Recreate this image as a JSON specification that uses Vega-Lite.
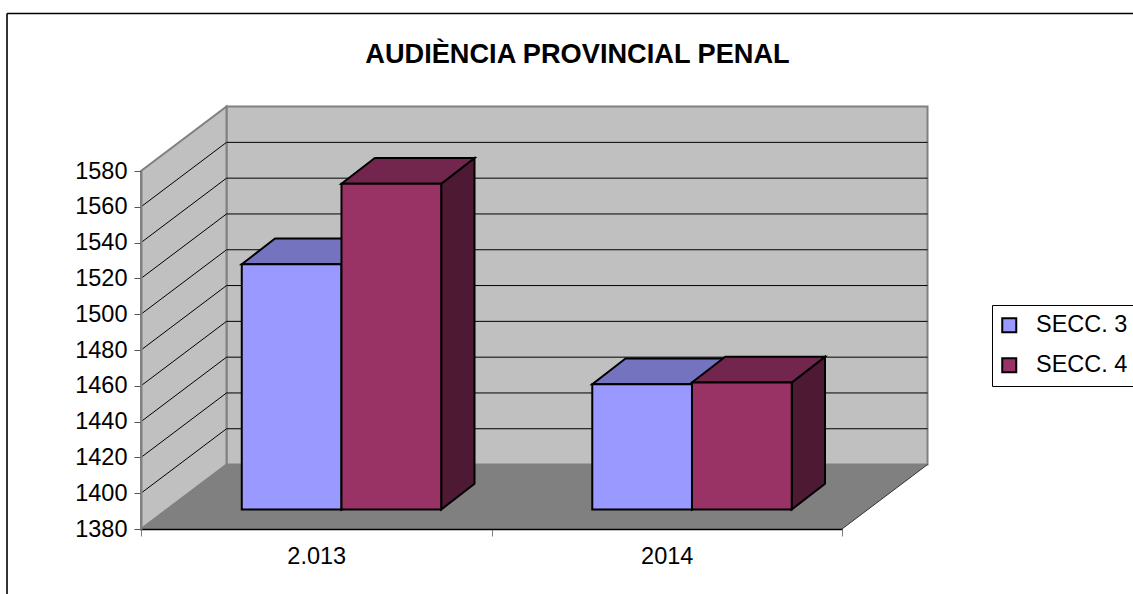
{
"$schema":"https://vega.github.io/schema/vega-lite/v6.json",
"width":701,"height":358,
"autosize":{"type":"none"},
"padding":{"left":141,"top":171,"right":291,"bottom":65},
"background":"white",
"config":{"view":{"stroke":null},"font":"Liberation Sans"},
"title":{"text":"AUDIÈNCIA PROVINCIAL PENAL","font":"Liberation Sans","fontSize":27.2,"fontWeight":"bold","color":"black","anchor":"middle","frame":"group","dx":86,"offset":-57},
"datasets":{
"bars":[
{"year":"2.013","series":"SECC. 3","value":1517},
{"year":"2.013","series":"SECC. 4","value":1562},
{"year":"2014","series":"SECC. 3","value":1450},
{"year":"2014","series":"SECC. 4","value":1451}
],
"levels":[{"level":1400},{"level":1420},{"level":1440},{"level":1460},{"level":1480},{"level":1500},{"level":1520},{"level":1540},{"level":1560}]
},
"encoding":{
"x":{"field":"x","type":"quantitative","scale":{"domain":[0,2],"nice":false,"zero":false},
"axis":{"title":null,"grid":false,"values":[0,0.5,1,1.5,2],"labelExpr":"datum.value==0.5?'2.013':datum.value==1.5?'2014':''","tickOpacity":{"condition":{"test":"datum.value==0.5||datum.value==1.5","value":0},"value":1},"labelFont":"Liberation Sans","labelFontSize":23.5,"labelColor":"black","labelPadding":8,"tickSize":7,"tickColor":"#808080","domainColor":"black","domainWidth":1.5,"labelOverlap":false,"labelFlush":false,"zindex":1}},
"y":{"field":"y","type":"quantitative","scale":{"domain":[1380,1580],"nice":false,"zero":false},
"axis":{"title":null,"grid":false,"values":[1380,1400,1420,1440,1460,1480,1500,1520,1540,1560,1580],"labelFont":"Liberation Sans","labelFontSize":23.5,"labelColor":"black","labelPadding":7,"tickSize":7,"tickColor":"#555555","domainColor":"#808080","domainWidth":2,"labelOverlap":false,"labelFlush":false,"format":"d","zindex":1}}
},
"layer":[
{"data":{"values":[{"x":-0.3823,"y":1668,"y2":1300}]},"mark":{"type":"rule","color":"black","strokeWidth":1.6},"encoding":{"y2":{"field":"y2"}}},
{"data":{"values":[{"x":-0.3823,"x2":3.5,"y":1668}]},"mark":{"type":"rule","color":"black","strokeWidth":1.6},"encoding":{"x2":{"field":"x2"}}},
{"data":{"values":[{"x":0.244,"x2":2.244,"y":1416,"y2":1616}]},"mark":{"type":"rect","fill":"#C0C0C0","stroke":"#808080","strokeWidth":2},"encoding":{"x2":{"field":"x2"},"y2":{"field":"y2"}}},
{"data":{"values":[{"x":0,"y":1380,"y2":1580},{"x":0.244,"y":1416,"y2":1616}]},"mark":{"type":"area","orient":"vertical","fill":"#C0C0C0","stroke":"#808080","strokeWidth":2},"encoding":{"y2":{"field":"y2"}}},
{"data":{"values":[{"x":0,"x2":2,"y":1380},{"x":0.244,"x2":2.244,"y":1416}]},"mark":{"type":"area","orient":"horizontal","fill":"#808080"},"encoding":{"x2":{"field":"x2"}}},
{"data":{"values":[{"x":2,"y":1380},{"x":2.244,"y":1416}]},"mark":{"type":"line","color":"#333333","strokeWidth":1}},
{"data":{"name":"levels"},
"transform":[
{"calculate":"[0,1,2]","as":"v"},{"flatten":["v"]},
{"calculate":"[0,0.244,2.244][datum.v]","as":"x"},
{"calculate":"datum.level+(datum.v>0?36:0)","as":"y"}],
"mark":{"type":"line","color":"black","strokeWidth":1},"encoding":{"detail":{"field":"level"},"order":{"field":"v"}}},
{"data":{"name":"bars"},
"transform":[
{"calculate":"(datum.year==='2.013'?0:1)+0.5+(datum.series==='SECC. 3'?-0.2845:0)","as":"left"},
{"calculate":"[0,1]","as":"d"},{"flatten":["d"]},
{"calculate":"datum.left+0.2845+(datum.d?0.167:0.072)","as":"x"},
{"calculate":"datum.value+(datum.d?25.26:10.88)","as":"y"},
{"calculate":"1380+(datum.d?25.26:10.88)","as":"y2"},
{"calculate":"datum.year+datum.series","as":"key"}],
"mark":{"type":"area","orient":"vertical","stroke":"black","strokeWidth":2},
"encoding":{"y2":{"field":"y2"},"detail":{"field":"key"},"color":{"field":"series","type":"nominal","scale":{"domain":["SECC. 3","SECC. 4"],"range":["#4D4D80","#4D1933"]},"legend":null}}},
{"data":{"name":"bars"},
"transform":[
{"calculate":"(datum.year==='2.013'?0:1)+0.5+(datum.series==='SECC. 3'?-0.2845:0)","as":"left"},
{"calculate":"[0,1]","as":"d"},{"flatten":["d"]},
{"calculate":"datum.left+(datum.d?0.167:0.072)","as":"x"},
{"calculate":"datum.x+0.2845","as":"x2"},
{"calculate":"datum.value+(datum.d?25.26:10.88)","as":"y"},
{"calculate":"datum.year+datum.series","as":"key"}],
"mark":{"type":"area","orient":"horizontal","stroke":"black","strokeWidth":2},
"encoding":{"x2":{"field":"x2"},"detail":{"field":"key"},"color":{"field":"series","type":"nominal","scale":{"domain":["SECC. 3","SECC. 4"],"range":["#7373BF","#73264D"]},"legend":null}}},
{"data":{"name":"bars"},
"transform":[
{"calculate":"(datum.year==='2.013'?0:1)+0.5+(datum.series==='SECC. 3'?-0.2845:0)+0.072","as":"x"},
{"calculate":"datum.x+0.2845","as":"x2"},
{"calculate":"datum.value+10.88","as":"y"},
{"calculate":"1390.88","as":"y2"}],
"mark":{"type":"rect","stroke":"black","strokeWidth":2},
"encoding":{"x2":{"field":"x2"},"y2":{"field":"y2"},"color":{"field":"series","type":"nominal","scale":{"domain":["SECC. 3","SECC. 4"],"range":["#9999FF","#993366"]},
"legend":{"title":null,"orient":"none","legendX":851,"legendY":134,"fillColor":"white","strokeColor":"black","padding":8.5,"symbolOffset":-3,"symbolType":"square","symbolSize":196,"symbolStrokeColor":"black","symbolStrokeWidth":2,"symbolOpacity":1,"labelFont":"Liberation Sans","labelFontSize":23.5,"labelColor":"black","labelOffset":15,"rowPadding":15,"labelLimit":200}}}}
],
"resolve":{"scale":{"color":"independent"}}
}
